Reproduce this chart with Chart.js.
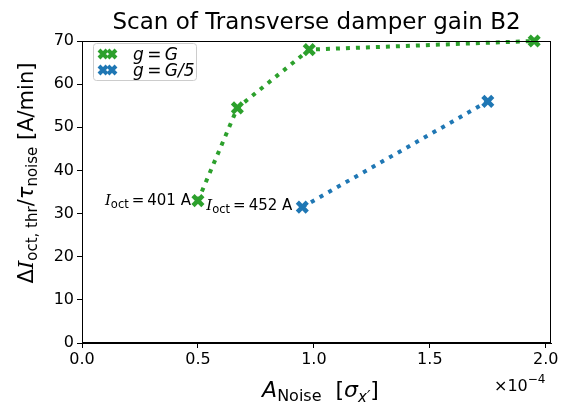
<!DOCTYPE html>
<html>
<head>
<meta charset="utf-8">
<script src="https://cdn.jsdelivr.net/npm/chart.js@4"></script>
<style>
  html, body { margin: 0; padding: 0; background: #fff; }
  #wrap { width: 573px; height: 410px; }
</style>
</head>
<body>
<div id="wrap"><canvas id="scan" width="573" height="410"></canvas></div>
<script>
// damper gain g = G
const noiseFull = [0.5, 0.67, 0.98, 1.95];
const rateFull = [33, 54.5, 68, 70];
// damper gain g = G/5
const noiseFifth = [0.95, 1.75];
const rateFifth = [31.5, 56];

const xTickValues = [0, 0.5, 1.0, 1.5, 2.0];
const yTickValues = [0, 10, 20, 30, 40, 50, 60, 70];
const octCurrents = ['401', '452'];

const GREEN = '#2ca02c';
const BLUE = '#1f77b4';
const FONT = '"DejaVu Sans", sans-serif';
const SERIF = '"DejaVu Serif", serif';

function toPoints(xs, ys) {
    return xs.map((x, i) => ({ x: x, y: ys[i] }));
}

// draw a run of text pieces: [text, fontSize, italic, baselineShift, family]
function runFont(r) {
    return (r[2] ? 'italic ' : '') + r[1] + 'px ' + (r[4] || FONT);
}

function drawRuns(ctx, runs, x, y, align) {
    let total = 0;
    runs.forEach(r => {
        ctx.font = runFont(r);
        total += ctx.measureText(r[0]).width;
    });
    let cx = x;
    if (align === 'center') cx = x - total / 2;
    if (align === 'right') cx = x - total;
    ctx.textAlign = 'left';
    ctx.textBaseline = 'alphabetic';
    runs.forEach(r => {
        ctx.font = runFont(r);
        ctx.fillText(r[0], cx, y + (r[3] || 0));
        cx += ctx.measureText(r[0]).width;
    });
}

function drawCross(ctx, x, y, r, color) {
    ctx.save();
    ctx.strokeStyle = color;
    ctx.lineWidth = 4;
    ctx.beginPath();
    ctx.moveTo(x - r, y - r); ctx.lineTo(x + r, y + r);
    ctx.moveTo(x - r, y + r); ctx.lineTo(x + r, y - r);
    ctx.stroke();
    ctx.restore();
}

const decorations = {
    id: 'decorations',
    afterDraw(chart) {
        const ctx = chart.ctx;
        const a = chart.chartArea;
        const xs = chart.scales.x;
        const ys = chart.scales.y;
        ctx.save();
        ctx.fillStyle = '#000';

        // frame
        ctx.strokeStyle = '#000';
        ctx.lineWidth = 1;
        ctx.strokeRect(a.left + 0.5, a.top + 0.5, a.right - a.left - 1, a.bottom - a.top - 1);

        // title
        drawRuns(ctx, [['Scan of Transverse damper gain B2', 23]], (a.left + a.right) / 2, 29, 'center');

        // x axis label and offset
        drawRuns(ctx, [['A', 22, true], ['Noise', 16, false, 4], ['  [', 22], ['σ', 22, true], ['x′', 15, true, 5], [']', 22]],
            (a.left + a.right) / 2 + 4, 397, 'center');
        drawRuns(ctx, [['×10', 16], ['−4', 12, false, -8]], 494, 391, 'left');

        // y axis label, rotated
        ctx.save();
        ctx.translate(33, 173);
        ctx.rotate(-Math.PI / 2);
        drawRuns(ctx, [['Δ', 21], ['I', 21, true, 0, SERIF], ['oct, thr', 15, false, 4], ['/', 21], ['τ', 21, true],
            ['noise', 15, false, 4], [' [A/min]', 21]], 0, 0, 'center');
        ctx.restore();

        // octupole current at the lowest point of each scan
        const starts = [[noiseFull[0], rateFull[0], 7, 4], [noiseFifth[0], rateFifth[0], 10, 3]];
        starts.forEach((s, i) => {
            const px = xs.getPixelForValue(s[0]) - s[2];
            const py = ys.getPixelForValue(s[1]) + s[3];
            drawRuns(ctx, [['I', 15, true, 0, SERIF], ['oct', 11.5, false, 3], ['\u2009=\u2009' + octCurrents[i] + ' A', 15]], px, py, 'right');
        });

        // legend
        const lx = a.left + 11, ly = a.top + 2;
        ctx.fillStyle = 'rgba(255,255,255,0.8)';
        ctx.strokeStyle = '#cccccc';
        ctx.lineWidth = 1;
        ctx.beginPath();
        ctx.roundRect(lx + 0.5, ly + 0.5, 103, 37, 3);
        ctx.fill();
        ctx.stroke();
        const entries = [['G', GREEN], ['G/5', BLUE]];
        entries.forEach((e, i) => {
            const cy = ly + 11 + i * 16;
            drawCross(ctx, lx + 10, cy, 4, e[1]);
            drawCross(ctx, lx + 19, cy, 4, e[1]);
            ctx.fillStyle = '#000';
            drawRuns(ctx, [['g', 17, true], ['\u2009=\u2009', 17], [e[0], 17, true]], lx + 40, cy + 6, 'left');
        });
        ctx.restore();
    }
};

new Chart(document.getElementById('scan'), {
    type: 'scatter',
    data: {
        datasets: [
            {
                label: 'g = G',
                data: toPoints(noiseFull, rateFull),
                showLine: true,
                borderColor: GREEN,
                backgroundColor: GREEN,
                borderWidth: 4,
                borderDash: [4, 6],
                pointStyle: 'crossRot',
                pointRadius: 7,
                pointBorderWidth: 4.5,
                pointBorderColor: GREEN
            },
            {
                label: 'g = G/5',
                data: toPoints(noiseFifth, rateFifth),
                showLine: true,
                borderColor: BLUE,
                backgroundColor: BLUE,
                borderWidth: 4,
                borderDash: [4, 6],
                pointStyle: 'crossRot',
                pointRadius: 7,
                pointBorderWidth: 4.5,
                pointBorderColor: BLUE
            }
        ]
    },
    options: {
        responsive: false,
        animation: false,
        clip: false,
        layout: { padding: { left: 0, top: 41, right: 22, bottom: 0 } },
        plugins: {
            legend: { display: false },
            title: { display: false },
            tooltip: { enabled: false }
        },
        scales: {
            x: {
                type: 'linear',
                min: 0,
                max: 2.0225,
                afterBuildTicks: s => { s.ticks = xTickValues.map(v => ({ value: v })); },
                afterFit: s => { s.height = 67; },
                grid: { drawOnChartArea: false, drawTicks: true, tickLength: 5, color: '#000' },
                border: { display: true, color: '#000' },
                ticks: {
                    color: '#000',
                    font: { family: FONT, size: 16 },
                    padding: 2,
                    maxRotation: 0,
                    callback: v => v.toFixed(1)
                }
            },
            y: {
                type: 'linear',
                min: 0,
                max: 70,
                afterBuildTicks: s => { s.ticks = yTickValues.map(v => ({ value: v })); },
                afterFit: s => { s.width = 82; },
                grid: { drawOnChartArea: false, drawTicks: true, tickLength: 5, color: '#000' },
                border: { display: true, color: '#000' },
                ticks: {
                    color: '#000',
                    font: { family: FONT, size: 16 },
                    padding: 3,
                    callback: v => String(v)
                }
            }
        }
    },
    plugins: [decorations]
});
</script>
</body>
</html>
